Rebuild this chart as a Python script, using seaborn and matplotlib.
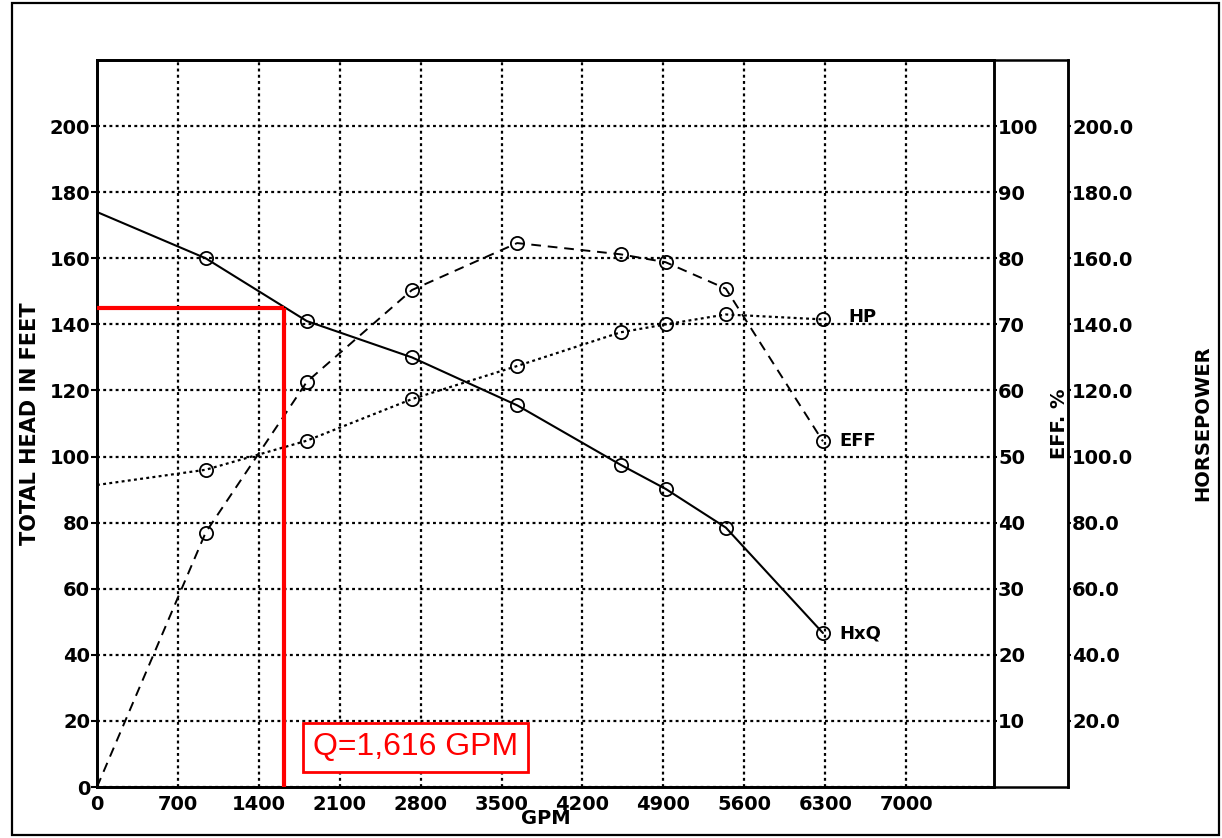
import matplotlib
matplotlib.use("Agg")
import matplotlib.pyplot as plt
import seaborn as sns
from matplotlib.patches import Rectangle
from matplotlib.ticker import FormatStrFormatter

# ==========================
# Pump curve data
# ==========================
test_gpm = [0, 940, 1815, 2725, 3635, 4530, 4920, 5440, 6280]
head_ft = [174, 160, 141, 130, 115.5, 97.5, 90.2, 78.5, 46.6]
eff_pct = [0, 38.5, 61.3, 75.2, 82.3, 80.6, 79.4, 75.4, 52.3]
hp = [91.4, 96.0, 104.8, 117.4, 127.4, 137.6, 140.0, 143.0, 141.5]

gpm_ticks = [0, 700, 1400, 2100, 2800, 3500, 4200, 4900, 5600, 6300, 7000]
head_ticks = [0, 20, 40, 60, 80, 100, 120, 140, 160, 180, 200]
eff_ticks = [10, 20, 30, 40, 50, 60, 70, 80, 90, 100]
hp_ticks = [20.0, 40.0, 60.0, 80.0, 100.0, 120.0, 140.0, 160.0, 180.0, 200.0]

# duty point
duty_gpm = 1616
duty_head = 145
duty_label = "Q=1,616 GPM"
label_box_gpm = 2755
label_box_head = 12

# ==========================
# Style
# ==========================
sns.set_theme(style="white")
plt.rcParams["font.family"] = ["DejaVu Sans"]
plt.rcParams["font.weight"] = "bold"
plt.rcParams["axes.labelweight"] = "bold"
plt.rcParams["axes.edgecolor"] = "black"
plt.rcParams["axes.linewidth"] = 1.8
for key in ["text.color", "axes.labelcolor", "xtick.color", "ytick.color"]:
    plt.rcParams[key] = "black"

W, H = 1222, 838
fig = plt.figure(figsize=(W / 100, H / 100), dpi=100)

# scanned-sheet outer border
fig.patches.append(Rectangle((12 / W, 3 / H), 1207 / W, 832 / H, transform=fig.transFigure,
                             fill=False, edgecolor="black", linewidth=1.6))

left, right, right2 = 97, 994, 1068
top, bottom = 60, 787
pos = [left / W, (H - bottom) / H, (right - left) / W, (bottom - top) / H]

# frame that also closes the horsepower scale box
frame = fig.add_axes([left / W, (H - bottom) / H, (right2 - left) / W, (bottom - top) / H])
frame.set_xticks([])
frame.set_yticks([])

ax = fig.add_axes(pos)
ax.set_facecolor("none")
eff_ax = ax.twinx()
hp_ax = ax.twinx()

dot_grid = (0, (1.3, 1.5))
ax.grid(True, color="black", linestyle=dot_grid, linewidth=1.6)

mk = dict(marker="o", markevery=list(range(1, len(test_gpm))), markersize=9.5,
          markerfacecolor="none", markeredgecolor="black", markeredgewidth=1.3)

sns.lineplot(x=test_gpm, y=head_ft, ax=ax, color="black", linewidth=1.5,
             estimator=None, sort=False, **mk)
sns.lineplot(x=test_gpm, y=eff_pct, ax=eff_ax, color="black", linewidth=1.4,
             linestyle=(0, (5, 3.5)), estimator=None, sort=False, **mk)
sns.lineplot(x=test_gpm, y=hp, ax=hp_ax, color="black", linewidth=1.6,
             linestyle=(0, (1.3, 1.5)), estimator=None, sort=False, **mk)

# curve names next to the last test point
ax.annotate("HxQ", (test_gpm[-1], head_ft[-1]), xytext=(12, 0), textcoords="offset points",
            va="center", ha="left", fontsize=13)
eff_ax.annotate("EFF", (test_gpm[-1], eff_pct[-1]), xytext=(12, 0), textcoords="offset points",
                va="center", ha="left", fontsize=13)
hp_ax.annotate("HP", (test_gpm[-1], hp[-1]), xytext=(18, 2), textcoords="offset points",
               va="center", ha="left", fontsize=13)

# axes limits / ticks
ax.set_xlim(0, 7760)
ax.set_ylim(0, 220)
eff_ax.set_ylim(0, 110)
hp_ax.set_ylim(0, 220)

ax.set_xticks(gpm_ticks)
ax.set_yticks(head_ticks)
ax.tick_params(axis="x", length=0, pad=6, labelsize=14)
ax.tick_params(axis="y", length=4, width=1.5, pad=1, labelsize=14)

eff_ax.set_yticks(eff_ticks)
eff_ax.tick_params(axis="y", length=2, width=1.5, pad=1, labelsize=14)

hp_ax.spines["right"].set_position(("axes", (right2 - left) / (right - left)))
for s in ["left", "top", "bottom"]:
    hp_ax.spines[s].set_visible(False)
hp_ax.set_yticks(hp_ticks)
hp_ax.yaxis.set_major_formatter(FormatStrFormatter("%.1f"))
hp_ax.tick_params(axis="y", length=2, width=1.5, pad=1, labelsize=14)

ax.set_xlabel("GPM", fontsize=14, fontweight="bold", labelpad=-4)
ax.set_ylabel("TOTAL HEAD IN FEET", fontsize=15, fontweight="bold")
ax.yaxis.set_label_coords(-0.064, 0.5)
eff_ax.set_ylabel("EFF. %", fontsize=14, fontweight="bold", rotation=90)
eff_ax.yaxis.set_label_coords(1.0624, 0.5)
hp_ax.set_ylabel("HORSEPOWER", fontsize=14, fontweight="bold", rotation=90)
hp_ax.yaxis.set_label_coords(1.222, 0.5)

# duty point marking
hp_ax.plot([0, duty_gpm], [duty_head, duty_head], color="red", linewidth=3, clip_on=False,
           solid_capstyle="butt")
hp_ax.plot([duty_gpm, duty_gpm], [duty_head, 0], color="red", linewidth=3, clip_on=False,
           solid_capstyle="butt")
hp_ax.text(label_box_gpm, label_box_head, duty_label, ha="center", va="center", color="red",
           fontsize=23, fontweight="normal", family=["Liberation Sans", "DejaVu Sans"],
           bbox=dict(boxstyle="square,pad=0.3", facecolor="white", edgecolor="red", linewidth=2))

plt.savefig("out.png", dpi=100)
